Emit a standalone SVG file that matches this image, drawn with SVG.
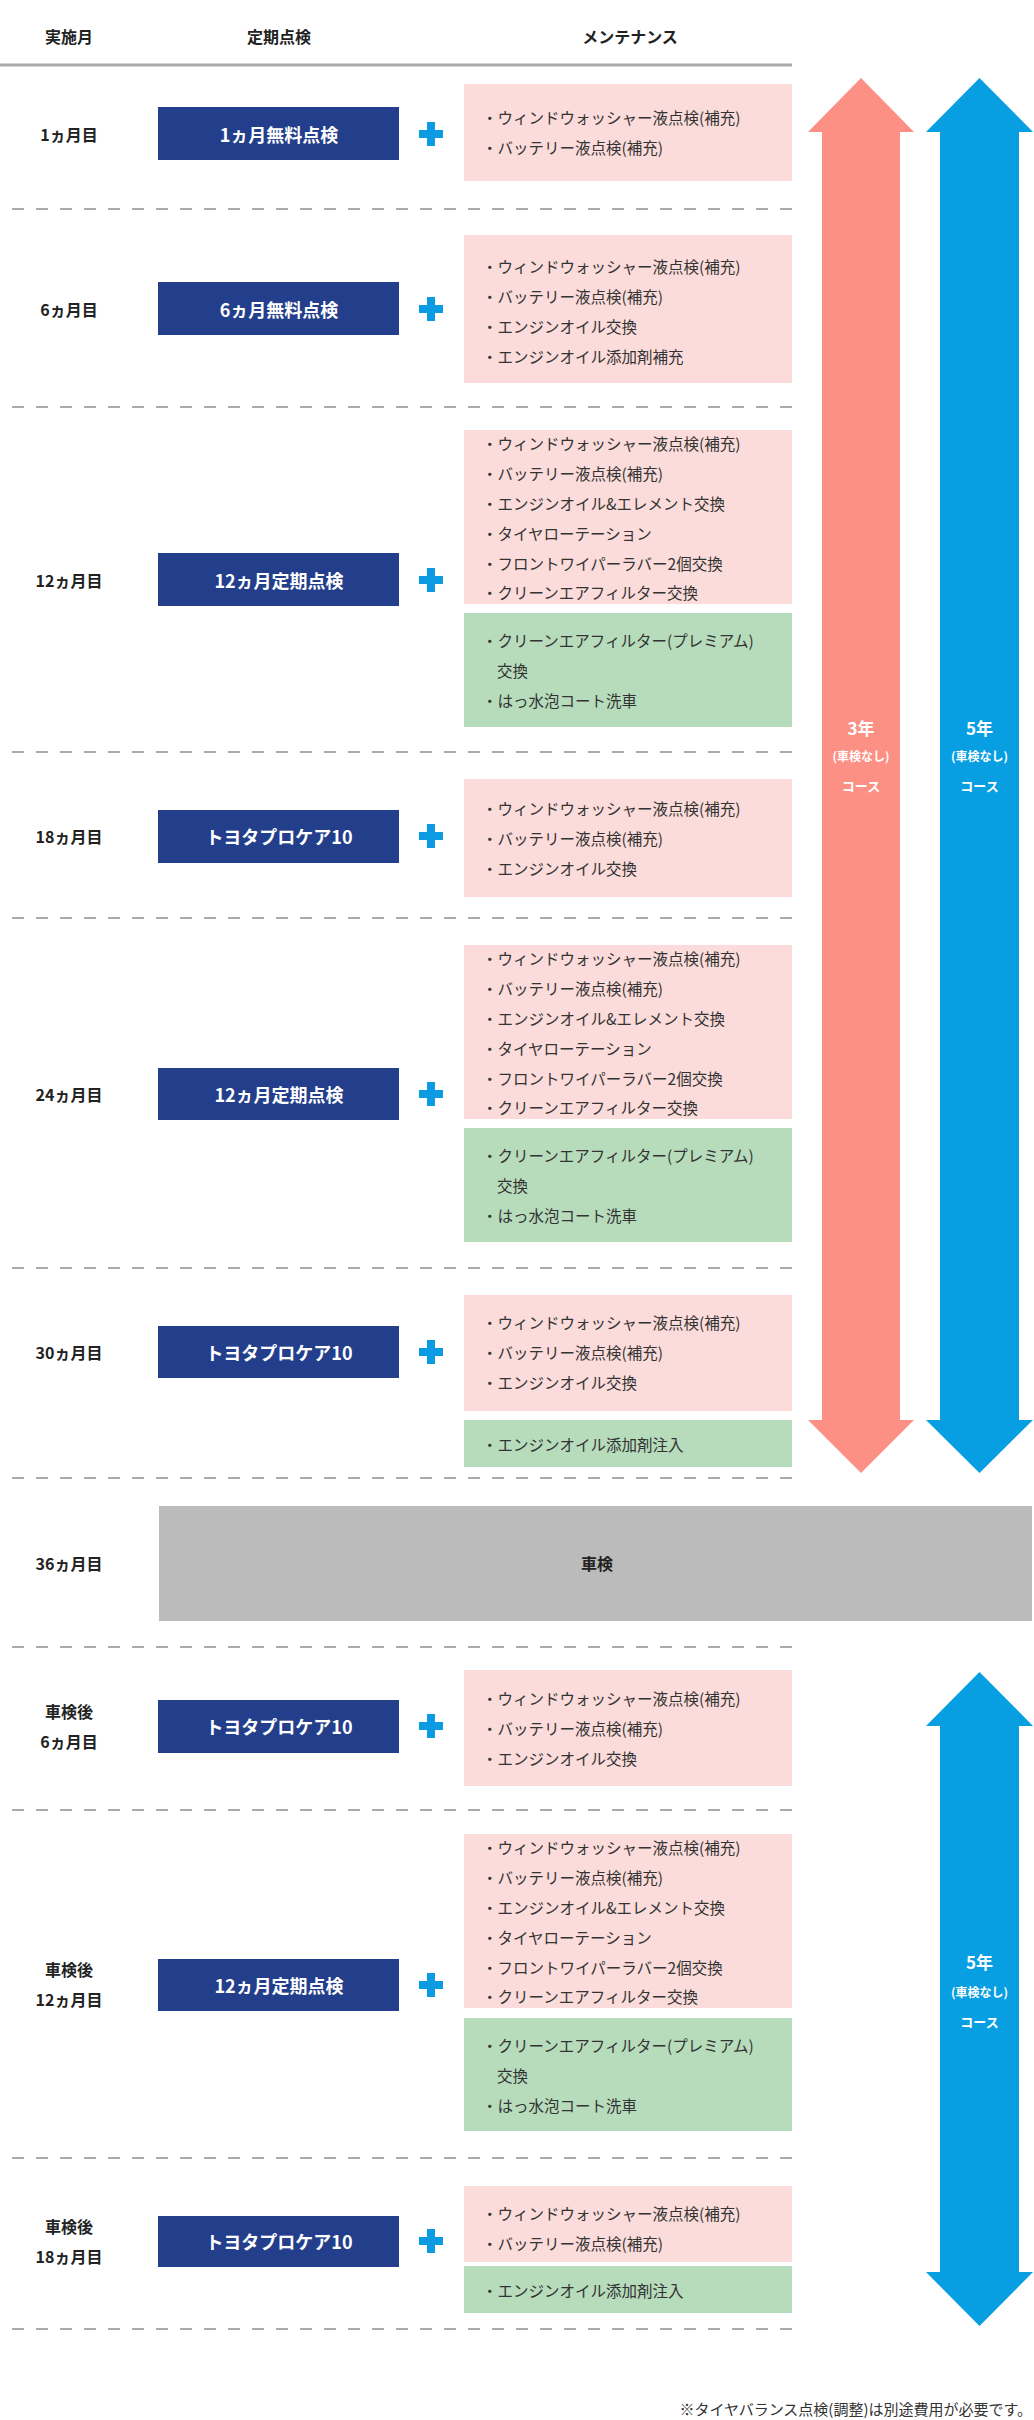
<svg xmlns="http://www.w3.org/2000/svg" width="1034" height="2420" viewBox="0 0 1034 2420">
<style>
text{font-family:"Noto Sans CJK JP","Liberation Sans",sans-serif;dominant-baseline:central}
.h{font-size:16px;font-weight:bold;fill:#222;text-anchor:middle}
.m{font-size:16px;font-weight:bold;fill:#222;text-anchor:middle}
.n{fill:#233e8b}
.nt{font-size:18px;font-weight:bold;fill:#fff;text-anchor:middle}
.pk{fill:#fbdcda}
.gr{fill:#b7dcbc}
.it{font-size:15.5px;fill:#333}
.pl{fill:#0a9be2}
.d{stroke:#aaa;stroke-width:2;stroke-dasharray:12 12;fill:none}
.at1{font-size:17px;font-weight:bold;fill:#fff;text-anchor:middle}
.at2{font-size:12px;font-weight:bold;fill:#fff;text-anchor:middle}
.at3{font-size:13px;font-weight:bold;fill:#fff;text-anchor:middle}
</style>
<defs>
<path id="plus" d="M-4,-12h8v8h8v8h-8v8h-8v-8h-8v-8h8z"/>
</defs>
<g id="header">
<text class="h" x="69" y="36">実施月</text>
<text class="h" x="279" y="36">定期点検</text>
<text class="h" x="630" y="36">メンテナンス</text>
<line x1="0" y1="65" x2="792" y2="65" stroke="#aaa" stroke-width="3"/>
</g>
<g id="dividers">
<line class="d" x1="12" x2="792" y1="209" y2="209"/>
<line class="d" x1="12" x2="792" y1="407" y2="407"/>
<line class="d" x1="12" x2="792" y1="752" y2="752"/>
<line class="d" x1="12" x2="792" y1="918" y2="918"/>
<line class="d" x1="12" x2="792" y1="1268" y2="1268"/>
<line class="d" x1="12" x2="792" y1="1478" y2="1478"/>
<line class="d" x1="12" x2="792" y1="1647" y2="1647"/>
<line class="d" x1="12" x2="792" y1="1810" y2="1810"/>
<line class="d" x1="12" x2="792" y1="2158" y2="2158"/>
<line class="d" x1="12" x2="792" y1="2329" y2="2329"/>
</g>
<g id="row1">
<text class="m" x="69" y="134">1ヵ月目</text>
<rect class="n" x="158" y="107" width="241" height="53"/><text class="nt" x="279" y="134">1ヵ月無料点検</text>
<use href="#plus" class="pl" x="431" y="134"/>
<rect class="pk" x="464" y="84" width="328" height="97"/>
<text class="it" x="482" y="117">・ウィンドウォッシャー液点検(補充)</text>
<text class="it" x="482" y="147">・バッテリー液点検(補充)</text>
</g>
<g id="row2">
<text class="m" x="69" y="309">6ヵ月目</text>
<rect class="n" x="158" y="282" width="241" height="53"/><text class="nt" x="279" y="309">6ヵ月無料点検</text>
<use href="#plus" class="pl" x="431" y="309"/>
<rect class="pk" x="464" y="235" width="328" height="148"/>
<text class="it" x="482" y="266">・ウィンドウォッシャー液点検(補充)</text>
<text class="it" x="482" y="296">・バッテリー液点検(補充)</text>
<text class="it" x="482" y="326">・エンジンオイル交換</text>
<text class="it" x="482" y="356">・エンジンオイル添加剤補充</text>
</g>
<g id="row3">
<text class="m" x="69" y="580">12ヵ月目</text>
<rect class="n" x="158" y="553" width="241" height="53"/><text class="nt" x="279" y="580">12ヵ月定期点検</text>
<use href="#plus" class="pl" x="431" y="580"/>
<rect class="pk" x="464" y="430" width="328" height="174"/>
<text class="it" x="482" y="443">・ウィンドウォッシャー液点検(補充)</text>
<text class="it" x="482" y="473">・バッテリー液点検(補充)</text>
<text class="it" x="482" y="503">・エンジンオイル&amp;エレメント交換</text>
<text class="it" x="482" y="533">・タイヤローテーション</text>
<text class="it" x="482" y="563">・フロントワイパーラバー2個交換</text>
<text class="it" x="482" y="592">・クリーンエアフィルター交換</text>
<rect class="gr" x="464" y="613" width="328" height="114"/>
<text class="it" x="482" y="640">・クリーンエアフィルター(プレミアム)</text>
<text class="it" x="497" y="670">交換</text>
<text class="it" x="482" y="700">・はっ水泡コート洗車</text>
</g>
<g id="row4">
<text class="m" x="69" y="836">18ヵ月目</text>
<rect class="n" x="158" y="810" width="241" height="53"/><text class="nt" x="279" y="836">トヨタプロケア10</text>
<use href="#plus" class="pl" x="431" y="836"/>
<rect class="pk" x="464" y="779" width="328" height="118"/>
<text class="it" x="482" y="808">・ウィンドウォッシャー液点検(補充)</text>
<text class="it" x="482" y="838">・バッテリー液点検(補充)</text>
<text class="it" x="482" y="868">・エンジンオイル交換</text>
</g>
<g id="row5">
<text class="m" x="69" y="1094">24ヵ月目</text>
<rect class="n" x="158" y="1068" width="241" height="52"/><text class="nt" x="279" y="1094">12ヵ月定期点検</text>
<use href="#plus" class="pl" x="431" y="1094"/>
<rect class="pk" x="464" y="945" width="328" height="174"/>
<text class="it" x="482" y="958">・ウィンドウォッシャー液点検(補充)</text>
<text class="it" x="482" y="988">・バッテリー液点検(補充)</text>
<text class="it" x="482" y="1018">・エンジンオイル&amp;エレメント交換</text>
<text class="it" x="482" y="1048">・タイヤローテーション</text>
<text class="it" x="482" y="1078">・フロントワイパーラバー2個交換</text>
<text class="it" x="482" y="1107">・クリーンエアフィルター交換</text>
<rect class="gr" x="464" y="1128" width="328" height="114"/>
<text class="it" x="482" y="1155">・クリーンエアフィルター(プレミアム)</text>
<text class="it" x="497" y="1185">交換</text>
<text class="it" x="482" y="1215">・はっ水泡コート洗車</text>
</g>
<g id="row6">
<text class="m" x="69" y="1352">30ヵ月目</text>
<rect class="n" x="158" y="1326" width="241" height="52"/><text class="nt" x="279" y="1352">トヨタプロケア10</text>
<use href="#plus" class="pl" x="431" y="1352"/>
<rect class="pk" x="464" y="1295" width="328" height="116"/>
<text class="it" x="482" y="1322">・ウィンドウォッシャー液点検(補充)</text>
<text class="it" x="482" y="1352">・バッテリー液点検(補充)</text>
<text class="it" x="482" y="1382">・エンジンオイル交換</text>
<rect class="gr" x="464" y="1420" width="328" height="47"/>
<text class="it" x="482" y="1444">・エンジンオイル添加剤注入</text>
</g>
<g id="shaken">
<text class="m" x="69" y="1563">36ヵ月目</text>
<rect x="159" y="1506" width="873" height="115" fill="#bbbbbb"/>
<text class="m" x="597" y="1563">車検</text>
</g>
<g id="row7">
<text class="m" x="69" y="1711">車検後</text><text class="m" x="69" y="1741">6ヵ月目</text>
<rect class="n" x="158" y="1700" width="241" height="53"/><text class="nt" x="279" y="1726">トヨタプロケア10</text>
<use href="#plus" class="pl" x="431" y="1726"/>
<rect class="pk" x="464" y="1670" width="328" height="116"/>
<text class="it" x="482" y="1698">・ウィンドウォッシャー液点検(補充)</text>
<text class="it" x="482" y="1728">・バッテリー液点検(補充)</text>
<text class="it" x="482" y="1758">・エンジンオイル交換</text>
</g>
<g id="row8">
<text class="m" x="69" y="1969">車検後</text><text class="m" x="69" y="1999">12ヵ月目</text>
<rect class="n" x="158" y="1959" width="241" height="52"/><text class="nt" x="279" y="1985">12ヵ月定期点検</text>
<use href="#plus" class="pl" x="431" y="1985"/>
<rect class="pk" x="464" y="1834" width="328" height="174"/>
<text class="it" x="482" y="1847">・ウィンドウォッシャー液点検(補充)</text>
<text class="it" x="482" y="1877">・バッテリー液点検(補充)</text>
<text class="it" x="482" y="1907">・エンジンオイル&amp;エレメント交換</text>
<text class="it" x="482" y="1937">・タイヤローテーション</text>
<text class="it" x="482" y="1967">・フロントワイパーラバー2個交換</text>
<text class="it" x="482" y="1996">・クリーンエアフィルター交換</text>
<rect class="gr" x="464" y="2018" width="328" height="113"/>
<text class="it" x="482" y="2045">・クリーンエアフィルター(プレミアム)</text>
<text class="it" x="497" y="2075">交換</text>
<text class="it" x="482" y="2105">・はっ水泡コート洗車</text>
</g>
<g id="row9">
<text class="m" x="69" y="2226">車検後</text><text class="m" x="69" y="2256">18ヵ月目</text>
<rect class="n" x="158" y="2216" width="241" height="51"/><text class="nt" x="279" y="2241">トヨタプロケア10</text>
<use href="#plus" class="pl" x="431" y="2241"/>
<rect class="pk" x="464" y="2186" width="328" height="76"/>
<text class="it" x="482" y="2213">・ウィンドウォッシャー液点検(補充)</text>
<text class="it" x="482" y="2243">・バッテリー液点検(補充)</text>
<rect class="gr" x="464" y="2266" width="328" height="47"/>
<text class="it" x="482" y="2290">・エンジンオイル添加剤注入</text>
</g>
<g id="arrow3y">
<polygon fill="#fc9084" points="861,78 914,132 900,132 900,1420 914,1420 861,1473 808,1420 822,1420 822,132 808,132"/>
<text class="at1" x="861" y="727">3年</text><text class="at2" x="861" y="755">(車検なし)</text><text class="at3" x="861" y="785">コース</text>
</g>
<g id="arrow5y">
<polygon fill="#089ee2" points="979.5,78 1033,132 1019,132 1019,1420 1033,1420 979.5,1473 926,1420 940,1420 940,132 926,132"/>
<text class="at1" x="979.5" y="727">5年</text><text class="at2" x="979.5" y="755">(車検なし)</text><text class="at3" x="979.5" y="785">コース</text>
</g>
<g id="arrow5y2">
<polygon fill="#089ee2" points="979.5,1672 1033,1726 1019,1726 1019,2272 1033,2272 979.5,2326 926,2272 940,2272 940,1726 926,1726"/>
<text class="at1" x="979.5" y="1961">5年</text><text class="at2" x="979.5" y="1991">(車検なし)</text><text class="at3" x="979.5" y="2021">コース</text>
</g>
<text x="1032" y="2408" style="font-size:15px;fill:#333;text-anchor:end">※タイヤバランス点検(調整)は別途費用が必要です。</text>
</svg>
